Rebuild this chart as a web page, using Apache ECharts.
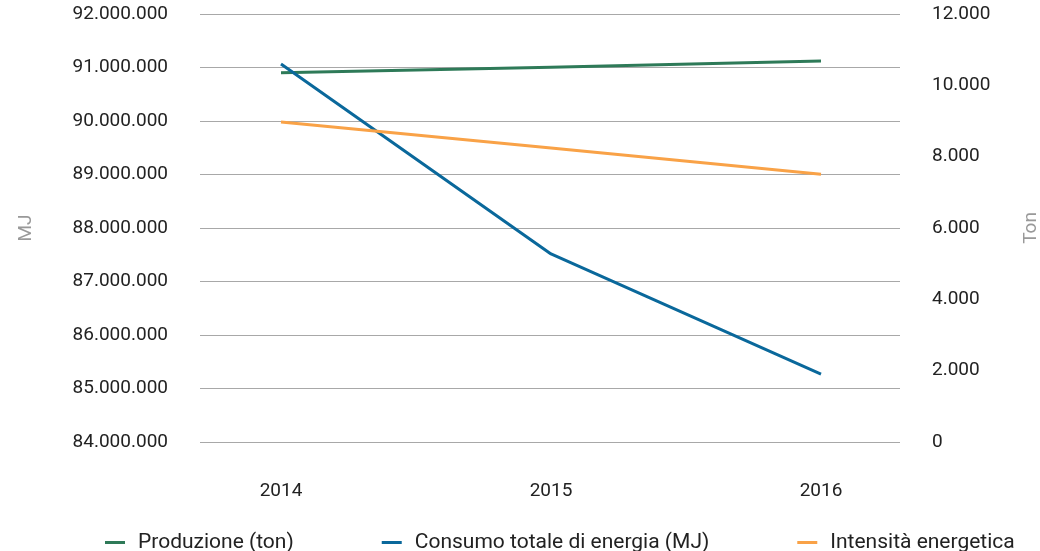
<!DOCTYPE html>
<html>
<head>
<meta charset="utf-8">
<script src="https://cdn.jsdelivr.net/npm/echarts@6/dist/echarts.min.js"></script>
<style>
html,body{margin:0;padding:0;background:#fff;overflow:hidden;}
#chart{width:1040px;height:551px;}
</style>
</head>
<body>
<div id="chart"></div>
<script>
const years = [2014, 2015, 2016];
const seriesNames = ['Produzione (ton)', 'Consumo totale di energia (MJ)', 'Intensità energetica'];
const produzione = [10350, 10510, 10680];
const consumo = [91065000, 87515000, 85270000];
const intensita = [8970, 8240, 7510];
const leftTicks = [84000000, 85000000, 86000000, 87000000, 88000000, 89000000, 90000000, 91000000, 92000000];
const rightTicks = [0, 2000, 4000, 6000, 8000, 10000, 12000];

const colors = ['#2e7a58', '#0a689b', '#f9a247'];
const fmt = v => String(Math.round(v)).replace(/\B(?=(\d{3})+(?!\d))/g, '.');
const pair = arr => years.map((y, i) => [y, arr[i]]);
const font = 'Roboto';

const chart = echarts.init(document.getElementById('chart'), null, {renderer: 'canvas', width: 1040, height: 551});
chart.setOption({
  animation: false,
  color: colors,
  grid: {left: 200, right: 140, top: 14, bottom: 109, containLabel: false, outerBoundsMode: 'none'},
  xAxis: {
    type: 'value',
    min: 2013.7,
    max: 2016.2926,
    axisLine: {show: false},
    axisTick: {show: false},
    splitLine: {show: false},
    axisLabel: {
      customValues: years,
      formatter: v => String(v),
      margin: 40,
      color: '#222',
      fontFamily: font,
      fontSize: 19
    }
  },
  yAxis: [
    {
      type: 'value',
      min: leftTicks[0],
      max: leftTicks[leftTicks.length - 1],
      interval: 1000000,
      position: 'left',
      name: 'MJ',
      nameLocation: 'middle',
      nameRotate: 90,
      nameGap: 164,
      nameTextStyle: {color: '#999', fontFamily: font, fontSize: 19},
      axisLine: {show: false},
      axisTick: {show: false},
      axisLabel: {formatter: fmt, margin: 32, color: '#222', fontFamily: font, fontSize: 19},
      splitLine: {show: true, lineStyle: {color: '#a8a8a8', width: 1}}
    },
    {
      type: 'value',
      min: rightTicks[0],
      max: rightTicks[rightTicks.length - 1],
      interval: 2000,
      position: 'right',
      name: 'Ton',
      nameLocation: 'middle',
      nameRotate: 90,
      nameGap: 122,
      nameTextStyle: {color: '#999', fontFamily: font, fontSize: 19},
      axisLine: {show: false},
      axisTick: {show: false},
      axisLabel: {formatter: fmt, margin: 32, color: '#222', fontFamily: font, fontSize: 19},
      splitLine: {show: false}
    }
  ],
  legend: {
    top: 527,
    left: 100,
    itemGap: 88,
    itemWidth: 20,
    itemHeight: 3,
    icon: 'rect',
    textStyle: {color: '#222', fontFamily: font, fontSize: 21, padding: [0, 0, 0, 8]},
    data: seriesNames
  },
  series: [
    {name: seriesNames[0], type: 'line', yAxisIndex: 1, data: pair(produzione), showSymbol: false, symbol: 'none', lineStyle: {width: 3, color: colors[0]}},
    {name: seriesNames[1], type: 'line', yAxisIndex: 0, data: pair(consumo), showSymbol: false, symbol: 'none', lineStyle: {width: 3, color: colors[1]}},
    {name: seriesNames[2], type: 'line', yAxisIndex: 1, data: pair(intensita), showSymbol: false, symbol: 'none', lineStyle: {width: 3, color: colors[2]}}
  ]
});
</script>
</body>
</html>
